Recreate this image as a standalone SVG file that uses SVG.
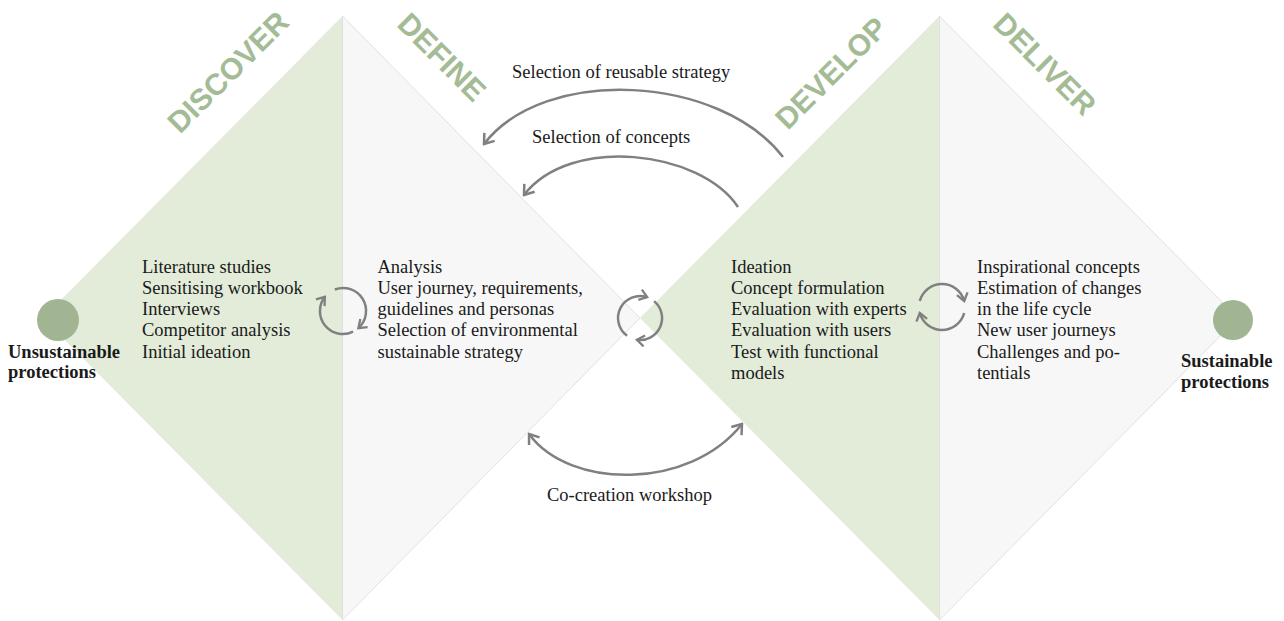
<svg xmlns="http://www.w3.org/2000/svg" width="1284" height="621" viewBox="0 0 1284 621">
<style>
.green{fill:#e2ecd9}
.light{fill:#f7f7f7;stroke:#dadada;stroke-width:0.8}
.head{font-family:"Liberation Sans",Arial,sans-serif;font-weight:bold;font-size:30px;fill:#a4bc95;text-anchor:middle;dominant-baseline:central}
.txt{font-family:"Liberation Serif","Times New Roman",serif;font-size:18.5px;fill:#1a1a1a}
.lbl{font-family:"Liberation Serif","Times New Roman",serif;font-size:18.5px;font-weight:bold;fill:#1a1a1a}
.dot{fill:#a2b592}
.arr{fill:none;stroke:#808080;stroke-width:2.5}
</style>
<defs>
<marker id="ah" viewBox="-12 -8 14 16" refX="0" refY="0" markerWidth="14" markerHeight="16" orient="auto-start-reverse" markerUnits="userSpaceOnUse">
<path d="M-9,-6.5 L0,0 L-9,6.5" fill="none" stroke="#808080" stroke-width="2.5"/>
</marker>
<marker id="ahs" viewBox="-10 -7 12 14" refX="0" refY="0" markerWidth="12" markerHeight="14" orient="auto" markerUnits="userSpaceOnUse">
<path d="M-7.5,-5.5 L0,0 L-7.5,5.5" fill="none" stroke="#808080" stroke-width="2.3"/>
</marker>
</defs>
<rect width="1284" height="621" fill="#ffffff"/>

<g id="discover">
<polygon class="green" points="342.5,16 342.5,620 43,318"/>
<text class="head" transform="rotate(-45 228 72)" x="228" y="72">DISCOVER</text>
<text class="txt" x="142" y="272.7">Literature studies</text>
<text class="txt" x="142" y="293.9">Sensitising workbook</text>
<text class="txt" x="142" y="315.1">Interviews</text>
<text class="txt" x="142" y="336.3">Competitor analysis</text>
<text class="txt" x="142" y="357.5">Initial ideation</text>
</g>

<g id="define">
<polygon class="light" points="342.5,16 640,318 342.5,620"/>
<text class="head" transform="rotate(45 442 57)" x="442" y="57">DEFINE</text>
<text class="txt" x="377.5" y="272.7">Analysis</text>
<text class="txt" x="377.5" y="293.9">User journey, requirements,</text>
<text class="txt" x="377.5" y="315.1">guidelines and personas</text>
<text class="txt" x="377.5" y="336.3">Selection of environmental</text>
<text class="txt" x="377.5" y="357.5">sustainable strategy</text>
</g>

<g id="develop">
<polygon class="green" points="939.5,16 939.5,620 640,318"/>
<text class="head" transform="rotate(-45 831 73)" x="831" y="73">DEVELOP</text>
<text class="txt" x="731" y="272.7">Ideation</text>
<text class="txt" x="731" y="293.9">Concept formulation</text>
<text class="txt" x="731" y="315.1">Evaluation with experts</text>
<text class="txt" x="731" y="336.3">Evaluation with users</text>
<text class="txt" x="731" y="357.5">Test with functional</text>
<text class="txt" x="731" y="378.7">models</text>
</g>

<g id="deliver">
<polygon class="light" points="939.5,16 1238,318 939.5,620"/>
<text class="head" transform="rotate(45 1045 64)" x="1045" y="64">DELIVER</text>
<text class="txt" x="977" y="272.7">Inspirational concepts</text>
<text class="txt" x="977" y="293.9">Estimation of changes</text>
<text class="txt" x="977" y="315.1">in the life cycle</text>
<text class="txt" x="977" y="336.3">New user journeys</text>
<text class="txt" x="977" y="357.5">Challenges and po-</text>
<text class="txt" x="977" y="378.7">tentials</text>
</g>

<g id="start">
<circle class="dot" cx="58" cy="320" r="21"/>
<text class="lbl" x="8" y="358">Unsustainable</text>
<text class="lbl" x="8" y="378">protections</text>
</g>

<g id="end">
<circle class="dot" cx="1233" cy="320" r="20"/>
<text class="lbl" x="1181" y="367">Sustainable</text>
<text class="lbl" x="1181" y="388">protections</text>
</g>

<g id="connectors">
<path class="arr" d="M783,157 C720,75 545,65 484,144" marker-end="url(#ah)"/>
<text class="txt" x="512" y="78">Selection of reusable strategy</text>
<path class="arr" d="M738,207 C700,150 570,135 524,195" marker-end="url(#ah)"/>
<text class="txt" x="532" y="143">Selection of concepts</text>
<path class="arr" d="M529,434 C570,490 690,490 742,424" marker-start="url(#ah)" marker-end="url(#ah)"/>
<text class="txt" x="547" y="501">Co-creation workshop</text>

<path class="arr" d="M334.8,289.5 A23,23 0 0 1 358.4,328.1" marker-end="url(#ahs)"/>
<path class="arr" d="M353.1,331.7 A23,23 0 0 1 324.9,296.8" marker-end="url(#ahs)"/>

<path class="arr" d="M627.1,335.8 A22,22 0 0 1 647.2,297.2" marker-end="url(#ahs)"/>
<path class="arr" d="M654.1,301.1 A22,22 0 0 1 636.9,339.8" marker-end="url(#ahs)"/>

<path class="arr" d="M919.8,301 A23,23 0 0 1 964.2,301" marker-end="url(#ahs)"/>
<path class="arr" d="M964.2,313 A23,23 0 0 1 919.8,313" marker-end="url(#ahs)"/>
</g>
</svg>
